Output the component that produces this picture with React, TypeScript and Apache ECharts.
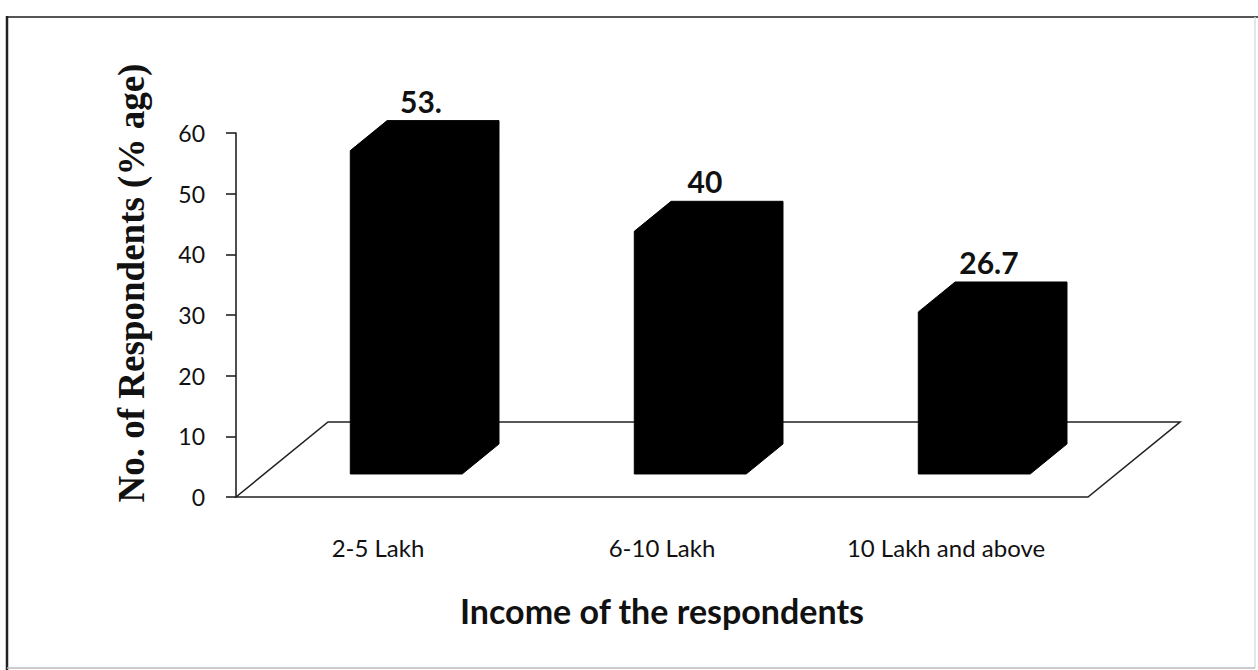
import React, { useEffect, useRef } from "react";
import * as echarts from "echarts";

// Income groups and share of respondents (%)
const CATEGORIES = ["2-5 Lakh", "6-10 Lakh", "10 Lakh and above"];
const VALUES = [53.3, 40, 26.7];
const VALUE_LABELS = ["53.", "40", "26.7"];
const Y_TICKS = { min: 0, max: 60, interval: 10 };

const X_TITLE = "Income of the respondents";
const Y_TITLE = "No. of Respondents (% age)";

// Oblique depth of the floor (pixels) and where the columns sit inside it
const DEPTH_X = 92;
const DEPTH_Y = -75;
const FRONT_FRAC = 0.307;
const DEPTH_FRAC = 0.4;
const BAR_FRAC = 0.394;

const SANS = "Lato, 'Open Sans', sans-serif";
const SERIF = "'Liberation Serif', 'DejaVu Serif', serif";

export default function App() {
  const ref = useRef<HTMLDivElement>(null);

  useEffect(() => {
    if (!ref.current) return;
    const chart = echarts.init(ref.current, undefined, { renderer: "svg" });

    const floorItem = (params: any) => {
      const cs = params.coordSys;
      const x0 = cs.x;
      const x1 = cs.x + cs.width;
      const y0 = cs.y + cs.height;
      return {
        type: "polygon",
        shape: {
          points: [
            [x0, y0],
            [x0 + DEPTH_X, y0 + DEPTH_Y],
            [x1 + DEPTH_X, y0 + DEPTH_Y],
            [x1, y0],
          ],
        },
        style: { fill: "none", stroke: "#222", lineWidth: 1.6 },
      };
    };

    const barItem = (params: any, api: any) => {
      const idx = api.value(0);
      const v = api.value(1);
      const base = api.coord([idx, 0]);
      const top = api.coord([idx, v]);
      const band = api.size([1, 0])[0];
      const w = band * BAR_FRAC;
      const fx = DEPTH_X * FRONT_FRAC;
      const fy = DEPTH_Y * FRONT_FRAC;
      const bx = DEPTH_X * DEPTH_FRAC;
      const by = DEPTH_Y * DEPTH_FRAC;
      const L = base[0] - w / 2 + fx;
      const R = base[0] + w / 2 + fx;
      const B = base[1] + fy;
      const T = top[1] + fy;
      return {
        type: "group",
        children: [
          {
            type: "polygon",
            shape: {
              points: [
                [L, B],
                [L, T],
                [L + bx, T + by],
                [R + bx, T + by],
                [R + bx, B + by],
                [R, B],
              ],
            },
            style: { fill: "#000", stroke: "#000", lineWidth: 1 },
          },
          {
            type: "text",
            x: base[0] + fx + bx * 0.4,
            y: T + by - 5,
            style: {
              text: VALUE_LABELS[idx],
              fill: "#111",
              font: `bold 30px ${SANS}`,
              align: "center",
              verticalAlign: "bottom",
            },
          },
        ],
      };
    };

    chart.setOption({
      animation: false,
      backgroundColor: "#fff",
      grid: { left: 236, right: 170, top: 133, bottom: 173, containLabel: false },
      xAxis: {
        type: "category",
        data: CATEGORIES,
        boundaryGap: true,
        axisLine: { show: false },
        axisTick: { show: false },
        axisLabel: {
          margin: 38,
          fontSize: 24,
          fontFamily: SANS,
          color: "#111",
        },
        name: X_TITLE,
        nameLocation: "middle",
        nameGap: 96,
        nameTextStyle: {
          fontSize: 34,
          fontWeight: "bold",
          fontFamily: SANS,
          color: "#111",
        },
      },
      yAxis: {
        type: "value",
        min: Y_TICKS.min,
        max: Y_TICKS.max,
        interval: Y_TICKS.interval,
        axisLine: { show: true, lineStyle: { color: "#222", width: 1.6 } },
        axisTick: { show: true, length: 10, lineStyle: { color: "#222", width: 1.6 } },
        axisLabel: {
          margin: 31,
          fontSize: 23,
          fontFamily: SANS,
          color: "#111",
        },
        splitLine: { show: false },
      },
      graphic: [
        {
          type: "text",
          x: 131,
          y: 283,
          rotation: Math.PI / 2,
          style: {
            text: Y_TITLE,
            font: `bold 37px ${SERIF}`,
            fill: "#111",
            align: "center",
            verticalAlign: "middle",
          },
        },
        {
          type: "line",
          shape: { x1: 7, y1: 17, x2: 1258, y2: 17 },
          style: { stroke: "#555", lineWidth: 2 },
        },
        {
          type: "line",
          shape: { x1: 7, y1: 16, x2: 7, y2: 670 },
          style: { stroke: "#222", lineWidth: 2.5 },
        },
        {
          type: "line",
          shape: { x1: 1255, y1: 17, x2: 1255, y2: 668 },
          style: { stroke: "#ddd", lineWidth: 1.5 },
        },
        {
          type: "line",
          shape: { x1: 7, y1: 668, x2: 1255, y2: 668 },
          style: { stroke: "#bbb", lineWidth: 1.5 },
        },
      ],
      series: [
        {
          type: "custom",
          name: "floor",
          data: [[0, 0]],
          renderItem: floorItem,
          z: 1,
          silent: true,
        },
        {
          type: "custom",
          name: "No. of Respondents",
          data: VALUES.map((v, i) => [i, v]),
          encode: { x: 0, y: 1 },
          renderItem: barItem,
          z: 2,
        },
      ],
    });

    return () => chart.dispose();
  }, []);

  return (
    <div
      ref={ref}
      style={{ position: "absolute", left: 0, top: 0, width: 1258, height: 670, background: "#fff" }}
    />
  );
}
